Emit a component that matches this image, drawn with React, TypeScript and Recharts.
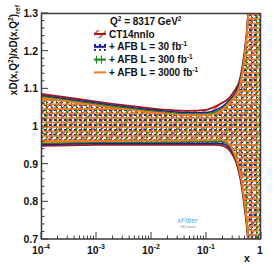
import React from 'react';
import { ComposedChart, Area, XAxis, YAxis } from 'recharts';

const xValues = [1e-4, 2e-4, 5e-4, 1e-3, 2e-3, 5e-3, 1e-2, 2e-2, 5e-2, 0.1, 0.15, 0.2, 0.25, 0.3, 0.35, 0.4, 0.45, 0.5, 0.55, 0.6, 0.7, 0.8, 0.9, 1.0];

const ct14Hi = [1.085, 1.079, 1.071, 1.065, 1.059, 1.052, 1.047, 1.043, 1.04, 1.043, 1.052, 1.062, 1.071, 1.085, 1.1, 1.117, 1.15, 1.195, 1.25, 1.33, 1.5, 1.65, 1.8, 1.9];
const ct14Lo = [0.947, 0.948, 0.949, 0.95, 0.95, 0.95, 0.95, 0.95, 0.95, 0.95, 0.95, 0.948, 0.94, 0.925, 0.905, 0.875, 0.835, 0.785, 0.735, 0.665, 0.5, 0.4, 0.35, 0.3];
const afb30Hi = [1.081, 1.075, 1.067, 1.061, 1.055, 1.048, 1.043, 1.039, 1.035, 1.036, 1.042, 1.052, 1.064, 1.077, 1.092, 1.11, 1.143, 1.19, 1.245, 1.325, 1.5, 1.65, 1.8, 1.9];
const afb30Lo = [0.951, 0.952, 0.953, 0.954, 0.954, 0.954, 0.954, 0.954, 0.954, 0.954, 0.954, 0.953, 0.946, 0.932, 0.911, 0.882, 0.842, 0.792, 0.742, 0.672, 0.5, 0.4, 0.35, 0.3];
const afb300Hi = [1.078, 1.072, 1.064, 1.058, 1.052, 1.045, 1.04, 1.036, 1.032, 1.032, 1.037, 1.047, 1.06, 1.073, 1.087, 1.105, 1.139, 1.185, 1.242, 1.322, 1.5, 1.65, 1.8, 1.9];
const afb300Lo = [0.954, 0.955, 0.956, 0.957, 0.957, 0.957, 0.957, 0.957, 0.958, 0.958, 0.958, 0.958, 0.951, 0.936, 0.913, 0.885, 0.846, 0.796, 0.746, 0.676, 0.5, 0.4, 0.35, 0.3];
const afb3000Hi = [1.075, 1.069, 1.061, 1.055, 1.049, 1.042, 1.037, 1.033, 1.029, 1.029, 1.033, 1.044, 1.058, 1.07, 1.083, 1.1, 1.135, 1.18, 1.24, 1.32, 1.5, 1.65, 1.8, 1.9];
const afb3000Lo = [0.957, 0.958, 0.959, 0.96, 0.96, 0.961, 0.961, 0.961, 0.962, 0.962, 0.963, 0.963, 0.955, 0.94, 0.915, 0.888, 0.85, 0.8, 0.75, 0.68, 0.5, 0.4, 0.35, 0.3];

const yMajorTicks = [0.7, 0.8, 0.9, 1, 1.1, 1.2, 1.3];
const xMajorTicks = [1e-4, 1e-3, 1e-2, 1e-1, 1];
const xTickExponents = ['-4', '-3', '-2', '-1', ''];

const legendLabels = ['CT14nnlo', '+ AFB L = 30 fb', '+ AFB L = 300 fb', '+ AFB L = 3000 fb'];
const legendColors = ['#a3181c', '#1c1c9c', '#15841a', '#f47a20'];
const legendPatterns = ['pRed', 'pBlue', 'pGreen', 'none'];

const FONT = '"Liberation Sans", Arial, Helvetica, sans-serif';
const AXIS = '#3a3a3a';

const yTicks: number[] = [];
for (let i = 0; i <= 30; i++) yTicks.push(Math.round((0.7 + i * 0.02) * 100) / 100);
const xTicks: number[] = [];
for (let n = -4; n < 0; n++) {
  for (let k = 1; k <= 9; k++) xTicks.push(k * Math.pow(10, n));
}
xTicks.push(1);

const data = xValues.map((x, i) => ({
  x,
  ct: [ct14Lo[i], ct14Hi[i]],
  l30: [afb30Lo[i], afb30Hi[i]],
  l300: [afb300Lo[i], afb300Hi[i]],
  l3000: [afb3000Lo[i], afb3000Hi[i]],
}));

function YTick(props: any) {
  const { x, y, payload } = props;
  const v = payload.value;
  const ax = x + 3;
  const major = yMajorTicks.some((m) => Math.abs(m - v) < 1e-6);
  return (
    <g>
      <line x1={ax} x2={ax + (major ? 7 : 3.5)} y1={y} y2={y} stroke={AXIS} strokeWidth={1} />
      {major && (
        <text x={ax - 3} y={y + 4} textAnchor="end" fontFamily={FONT} fontWeight="bold" fontSize={10.5} fill="#111">
          {String(v)}
        </text>
      )}
    </g>
  );
}

function XTick(props: any) {
  const { x, y, payload } = props;
  const v = payload.value;
  const ay = y - 3;
  const idx = xMajorTicks.findIndex((m) => Math.abs(Math.log10(m) - Math.log10(v)) < 1e-6);
  const major = idx >= 0;
  return (
    <g>
      <line x1={x} x2={x} y1={ay} y2={ay - (major ? 7 : 3.5)} stroke={AXIS} strokeWidth={1} />
      {major && v === 1 && (
        <text x={x - 1} y={ay + 15} textAnchor="middle" fontFamily={FONT} fontWeight="bold" fontSize={10.5} fill="#111">1</text>
      )}
      {major && v !== 1 && (
        <text x={x} y={ay + 15} textAnchor="middle" fontFamily={FONT} fontWeight="bold" fontSize={10.5} fill="#111">
          10<tspan dy={-5} fontSize={7}>{xTickExponents[idx]}</tspan>
        </text>
      )}
    </g>
  );
}

function Patterns() {
  return (
    <defs>
      <pattern id="pRed" width="6" height="6" patternUnits="userSpaceOnUse" patternTransform="rotate(45)">
        <line x1="1" y1="0" x2="1" y2="6" stroke="#a3181c" strokeWidth="1.2" />
      </pattern>
      <pattern id="pBlue" width="5" height="5" patternUnits="userSpaceOnUse">
        <path d="M0,0 L5,5 M5,0 L0,5" stroke="#1c1c9c" strokeWidth="1" strokeDasharray="1.6 1.2" />
      </pattern>
      <pattern id="pGreen" width="5" height="5" patternUnits="userSpaceOnUse">
        <line x1="1.5" y1="0" x2="1.5" y2="5" stroke="#15841a" strokeWidth="1.2" />
      </pattern>
      <pattern id="pOrange" width="5" height="4.5" patternUnits="userSpaceOnUse">
        <line x1="0" y1="1" x2="5" y2="1" stroke="#f47a20" strokeWidth="1.7" />
      </pattern>
    </defs>
  );
}

export default function App() {
  return (
    <div style={{ position: 'fixed', left: 0, top: 0, width: 274, height: 266, background: '#fff' }}>
      <ComposedChart width={274} height={266} data={data} margin={{ top: 13, right: 13, left: 0, bottom: 0 }}>
        <Patterns />
        <XAxis
          dataKey="x"
          type="number"
          scale="log"
          domain={[1e-4, 1]}
          ticks={xTicks}
          interval={0}
          height={27}
          axisLine={false}
          tickLine={false}
          tickSize={0}
          tickMargin={3}
          tick={<XTick />}
          allowDataOverflow
        />
        <YAxis
          type="number"
          domain={[0.7, 1.3]}
          ticks={yTicks}
          interval={0}
          width={41}
          axisLine={false}
          tickLine={false}
          tickSize={0}
          tickMargin={3}
          tick={<YTick />}
          allowDataOverflow
        />
        <Area dataKey="ct" type="monotone" stroke="#a3181c" strokeWidth={1.8} fill="url(#pRed)" fillOpacity={1} isAnimationActive={false} />
        <Area dataKey="l30" type="monotone" stroke="#1c1c9c" strokeWidth={1.6} fill="url(#pBlue)" fillOpacity={1} isAnimationActive={false} />
        <Area dataKey="l300" type="monotone" stroke="#15841a" strokeWidth={1.6} fill="url(#pGreen)" fillOpacity={1} isAnimationActive={false} />
        <Area dataKey="l3000" type="monotone" stroke="#f47a20" strokeWidth={1.8} fill="url(#pOrange)" fillOpacity={1} isAnimationActive={false} />
      </ComposedChart>
      <svg width={274} height={266} style={{ position: 'absolute', left: 0, top: 0, pointerEvents: 'none' }}>
        <rect x={41.5} y={13.5} width={219} height={225.5} fill="none" stroke={AXIS} strokeWidth={1.5} />
        <text transform="translate(17,5) rotate(-90)" textAnchor="end" fontFamily={FONT} fontWeight="bold" fontSize={10} fill="#111">
          xD(x,Q<tspan dy={-4} fontSize={6.5}>2</tspan>
          <tspan dy={4}>)/xD(x,Q</tspan>
          <tspan dy={-4} fontSize={6.5}>2</tspan>
          <tspan dy={4}>)</tspan>
          <tspan dy={3} fontSize={7}>ref</tspan>
        </text>
        <text x={247} y={262} fontFamily={FONT} fontWeight="bold" fontSize={10.5} fill="#111" textAnchor="middle">x</text>
        <text x={110} y={25} fontFamily={FONT} fontWeight="bold" fontSize={10} fill="#111">
          Q<tspan dy={-4} fontSize={6.5}>2</tspan>
          <tspan dy={4}> = 8317 GeV</tspan>
          <tspan dy={-4} fontSize={6.5}>2</tspan>
        </text>
        {legendLabels.map((label, i) => {
          const cy = 34 + i * 12.8;
          return (
            <g key={label}>
              {legendPatterns[i] !== 'none' && (
                <rect x={94} y={cy - 4} width={12} height={8} fill={`url(#${legendPatterns[i]})`} />
              )}
              <line x1={94} x2={106} y1={cy} y2={cy} stroke={legendColors[i]} strokeWidth={2} />
              <text x={109} y={cy + 3.6} fontFamily={FONT} fontWeight="bold" fontSize={10} fill="#111">
                {label}
                {i > 0 && <tspan dy={-4} fontSize={6.5}>-1</tspan>}
              </text>
            </g>
          );
        })}
        <text x={177} y={223} fontFamily={FONT} fontStyle="italic" fontSize={7.5} fill="#5fa8dc">xFitter</text>
        <text x={180} y={228} fontFamily={FONT} fontSize={3} fill="#888">LHC-based</text>
      </svg>
    </div>
  );
}
